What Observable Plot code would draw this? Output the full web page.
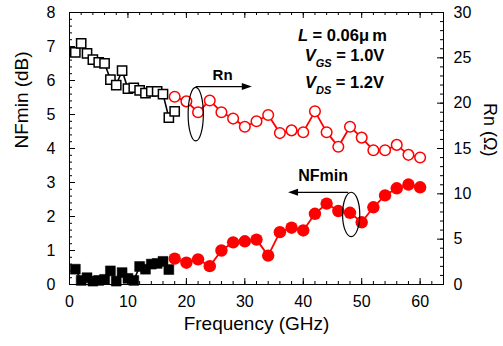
<!DOCTYPE html>
<html><head><meta charset="utf-8">
<script src="https://cdn.jsdelivr.net/npm/d3@7"></script>
<script src="https://cdn.jsdelivr.net/npm/@observablehq/plot@0.6"></script>
<style>body{margin:0;background:#fff;} #chart{width:503px;height:346px;}</style>
</head><body><div id="chart"></div>
<script>
// ---- data ----
const lowFreqRn = [1,2,3,4,5,6,7,8,9,10,11,12,13,14,15,16,17,18];
const rnLow = [25.6,26.6,25.5,24.8,24.5,24.4,22.6,22.0,23.6,21.6,21.7,21.4,21.1,21.3,21.3,21.0,18.4,19.1];
const lowFreqNf = [1,2,3,4,5,6,7,8,9,10,11,12,13,14,15,16,17];
const nfLow = [0.45,0.12,0.2,0.1,0.12,0.15,0.4,0.1,0.35,0.18,0.12,0.53,0.45,0.6,0.62,0.68,0.44];
const highFreq = [18,20,22,24,26,28,30,32,34,36,38,40,42,44,46,48,50,52,54,56,58,60];
const rnHigh = [20.7,20.2,19.0,20.3,19.0,18.3,17.4,18.0,18.7,16.7,17.0,16.8,19.1,16.8,15.2,17.4,16.2,14.8,14.8,15.4,14.3,14.0];
const nfHigh = [0.76,0.64,0.74,0.54,1.0,1.24,1.27,1.32,0.85,1.54,1.67,1.59,2.08,2.38,2.16,2.11,1.83,2.27,2.62,2.83,2.94,2.86];
const xTickLabels = [0,10,20,30,40,50,60];
const nfTickLabels = [0,1,2,3,4,5,6,7,8];
const rnTickLabels = [0,5,10,15,20,25,30];
const xTitle = "Frequency (GHz)";
const nfTitle = "NFmin (dB)";
const rnTitle = "Rn (\u03A9)";

// ---- helpers ----
const k = 8 / 30; // Rn (Ω) -> left axis units
const lowRn = lowFreqRn.map((f, i) => ({f, v: rnLow[i] * k}));
const lowNf = lowFreqNf.map((f, i) => ({f, v: nfLow[i]}));
const hiRn = highFreq.map((f, i) => ({f, v: rnHigh[i] * k}));
const hiNf = highFreq.map((f, i) => ({f, v: nfHigh[i]}));

const PW = 374, PH = 272;
const xMinor = d3.range(0, 65, 2);
const nfMinor = d3.range(0, 8.01, 0.2);
const rnMinor = d3.range(0, 31, 1).map(v => v * k);

const ellipse = (rx, ry) => ({draw(c) {
  const q = 0.5523;
  c.moveTo(rx, 0);
  c.bezierCurveTo(rx, ry*q, rx*q, ry, 0, ry);
  c.bezierCurveTo(-rx*q, ry, -rx, ry*q, -rx, 0);
  c.bezierCurveTo(-rx, -ry*q, -rx*q, -ry, 0, -ry);
  c.bezierCurveTo(rx*q, -ry, rx, -ry*q, rx, 0);
  c.closePath();
}});
const headRight = {draw(c){ c.moveTo(0,0); c.lineTo(-10,-3.5); c.lineTo(-10,3.5); c.closePath(); }};
const headLeft = {draw(c){ c.moveTo(0,0); c.lineTo(10,-3.5); c.lineTo(10,3.5); c.closePath(); }};

function params(index, scales) {
  const g = d3.create("svg:g")
    .attr("font-family", "'Liberation Sans', Arial, sans-serif")
    .attr("font-weight", "bold").attr("fill", "#000");
  const x0 = scales.x(46.8);
  const t1 = g.append("text").attr("x", x0).attr("y", scales.y(7.16)).attr("font-size", 16.5);
  t1.append("tspan").attr("font-style", "italic").text("L");
  t1.append("tspan").text(" = 0.06\u03BC\u2009m");
  [["GS", " = 1.0V", 6.56], ["DS", " = 1.2V", 5.76]].forEach(([sub, rest, yv]) => {
    const t = g.append("text").attr("x", x0 + 2).attr("y", scales.y(yv)).attr("font-size", 16.5);
    t.append("tspan").attr("font-style", "italic").text("V");
    t.append("tspan").attr("font-style", "italic").attr("font-size", 11).attr("dy", 6).text(sub);
    t.append("tspan").attr("dy", -6).text(rest);
  });
  return g.node();
}

const plot = Plot.plot({
  width: 503, height: 346,
  marginLeft: 69, marginRight: 60, marginTop: 12, marginBottom: 62,
  x: {domain: [0, 64]},
  y: {domain: [0, 8]},
  style: {fontFamily: "'Liberation Sans', Arial, sans-serif", fontSize: "16px", color: "#000", background: "#fff", overflow: "visible"},
  marks: [
    // ticks (inward)
    Plot.ruleX(xTickLabels, {insetTop: PH - 6, stroke: "#000"}),
    Plot.ruleX(xMinor, {insetTop: PH - 3, stroke: "#000"}),
    Plot.ruleX(xTickLabels, {insetBottom: PH - 6, stroke: "#000"}),
    Plot.ruleX(xMinor, {insetBottom: PH - 3, stroke: "#000"}),
    Plot.ruleY(nfTickLabels, {insetRight: PW - 6, stroke: "#000"}),
    Plot.ruleY(nfMinor, {insetRight: PW - 3, stroke: "#000"}),
    Plot.ruleY(rnTickLabels.map(v => v * k), {insetLeft: PW - 6, stroke: "#000"}),
    Plot.ruleY(rnMinor, {insetLeft: PW - 3, stroke: "#000"}),
    // axes labels
    Plot.axisX(xTickLabels, {anchor: "bottom", tickSize: 0, tickPadding: 11, label: null, fontSize: 16}),
    Plot.axisY(nfTickLabels, {anchor: "left", tickSize: 0, tickPadding: 14, label: null, fontSize: 16}),
    Plot.axisY(rnTickLabels.map(v => v * k), {anchor: "right", tickSize: 0, tickPadding: 10, label: null, fontSize: 16, tickFormat: d => Math.round(d / k)}),
    Plot.text([xTitle], {frameAnchor: "bottom", dy: 45, fontSize: 19}),
    Plot.text([nfTitle], {frameAnchor: "left", dx: -48, rotate: -90, fontSize: 19}),
    Plot.text([rnTitle], {frameAnchor: "right", dx: 46, dy: 8, rotate: 90, fontSize: 18}),
    // black series
    Plot.line(lowNf, {x: "f", y: "v", stroke: "#000", strokeWidth: 1.6}),
    Plot.dot(lowNf, {x: "f", y: "v", symbol: "square", r: 5.6, fill: "#000", stroke: "#000", strokeWidth: 0.5}),
    Plot.line(lowRn, {x: "f", y: "v", stroke: "#000", strokeWidth: 1.6}),
    Plot.dot(lowRn, {x: "f", y: "v", symbol: "square", r: 5.2, fill: "#fff", stroke: "#000", strokeWidth: 1.5}),
    // red series
    Plot.line(hiRn, {x: "f", y: "v", stroke: "#ff0000", strokeWidth: 1.8}),
    Plot.dot(hiRn, {x: "f", y: "v", r: 5.3, fill: "#fff", stroke: "#ff0000", strokeWidth: 1.5}),
    Plot.line(hiNf, {x: "f", y: "v", stroke: "#ff0000", strokeWidth: 1.8}),
    Plot.dot(hiNf, {x: "f", y: "v", r: 6.2, fill: "#ff0000", stroke: "none"}),
    // annotations
    Plot.dot([0], {x: 21.6, y: 5.01, symbol: ellipse(7.6, 26.8), fill: "none", stroke: "#000", strokeWidth: 1.2}),
    Plot.dot([0], {x: 48.2, y: 2.06, symbol: ellipse(8.6, 22.2), fill: "none", stroke: "#000", strokeWidth: 1.2}),
    Plot.link([0], {x1: 21.6, x2: 30, y1: 5.82, y2: 5.82, stroke: "#000", strokeWidth: 1.2}),
    Plot.dot([0], {x: 31.2, y: 5.82, symbol: headRight, fill: "#000", stroke: "none"}),
    Plot.link([0], {x1: 47.7, x2: 38.6, y1: 2.71, y2: 2.71, stroke: "#000", strokeWidth: 1.2}),
    Plot.dot([0], {x: 37.4, y: 2.71, symbol: headLeft, fill: "#000", stroke: "none"}),
    Plot.text(["Rn"], {x: 26.2, y: 6.15, fontSize: 15, fontWeight: "bold"}),
    Plot.text(["NFmin"], {x: 43.4, y: 3.2, fontSize: 16, fontWeight: "bold"}),
    params,
    Plot.frame({stroke: "#000"})
  ]
});
document.getElementById("chart").appendChild(plot);
</script>
</body></html>
